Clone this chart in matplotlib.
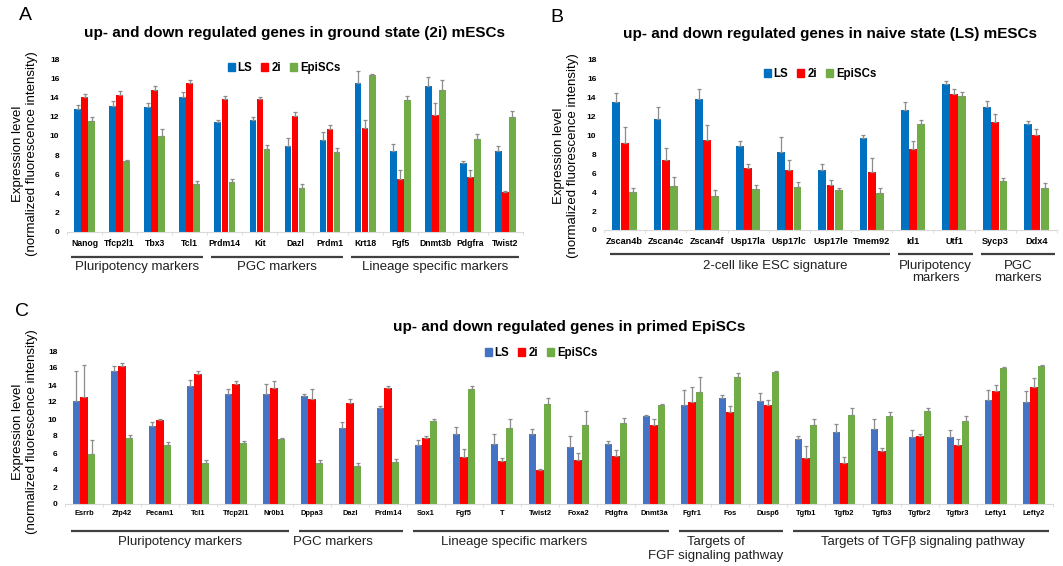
import numpy as np
import matplotlib
matplotlib.use("Agg")
import matplotlib.pyplot as plt
from matplotlib.patches import Patch
from matplotlib.transforms import blended_transform_factory

plt.rcParams['font.family'] = ['Liberation Sans', 'DejaVu Sans']

W, H = 1063, 566
series = ['LS', '2i', 'EpiSCs']

# ---- panel A : ground state (2i)
genes_a = ['Nanog', 'Tfcp2l1', 'Tbx3', 'Tcl1', 'Prdm14', 'Kit', 'Dazl', 'Prdm1',
           'Krt18', 'Fgf5', 'Dnmt3b', 'Pdgfra', 'Twist2']
ls_a = [12.8, 13.1, 13.0, 14.0, 11.4, 11.7, 9.0, 9.6, 15.5, 8.4, 15.2, 7.2, 8.4]
ls_a_err = [0.4, 0.5, 0.4, 0.6, 0.3, 0.3, 0.8, 0.8, 1.2, 0.8, 0.9, 0.2, 0.5]
tw_a = [14.0, 14.3, 14.8, 15.5, 13.8, 13.8, 12.1, 10.7, 10.8, 5.5, 12.2, 5.7, 4.2]
tw_a_err = [0.4, 0.4, 0.4, 0.3, 0.3, 0.2, 0.4, 0.4, 0.9, 1.0, 1.2, 0.7, 0.1]
epi_a = [11.6, 7.4, 10.0, 5.0, 5.2, 8.6, 4.6, 8.3, 16.3, 13.7, 14.8, 9.7, 12.0]
epi_a_err = [0.35, 0.1, 0.7, 0.3, 0.3, 0.5, 0.4, 0.4, 0.1, 0.4, 1.0, 0.5, 0.6]
groups_a = ['Pluripotency markers', 'PGC markers', 'Lineage specific markers']
spans_a = [(0, 3), (4, 7), (8, 12)]

# ---- panel B : naive state (LS)
genes_b = ['Zscan4b', 'Zscan4c', 'Zscan4f', 'Usp17la', 'Usp17lc', 'Usp17le',
           'Tmem92', 'Id1', 'Utf1', 'Sycp3', 'Ddx4']
ls_b = [13.6, 11.8, 13.9, 8.9, 8.3, 6.4, 9.7, 12.7, 15.5, 13.0, 11.2]
ls_b_err = [0.9, 1.2, 1.0, 0.5, 1.6, 0.6, 0.4, 0.9, 0.3, 0.7, 0.3]
tw_b = [9.2, 7.4, 9.5, 6.6, 6.4, 4.8, 6.1, 8.6, 14.4, 11.4, 10.1]
tw_b_err = [1.7, 1.3, 1.6, 0.4, 1.0, 0.5, 1.5, 0.8, 0.5, 0.9, 0.6]
epi_b = [4.0, 4.7, 3.6, 4.3, 4.6, 4.2, 3.9, 11.2, 14.2, 5.2, 4.5]
epi_b_err = [0.45, 0.9, 0.6, 0.5, 0.5, 0.3, 0.5, 0.4, 0.4, 0.3, 0.5]
groups_b = ['2-cell like ESC signature', 'Pluripotency\nmarkers', 'PGC\nmarkers']
spans_b = [(0, 6), (7, 8), (9, 10)]

# ---- panel C : primed EpiSCs
genes_c = ['Esrrb', 'Zfp42', 'Pecam1', 'Tcl1', 'Tfcp2l1', 'Nr0b1', 'Dppa3', 'Dazl',
           'Prdm14', 'Sox1', 'Fgf5', 'T', 'Twist2', 'Foxa2', 'Pdgfra', 'Dnmt3a',
           'Fgfr1', 'Fos', 'Dusp6', 'Tgfb1', 'Tgfb2', 'Tgfb3', 'Tgfbr2', 'Tgfbr3',
           'Lefty1', 'Lefty2']
ls_c = [12.1, 15.6, 9.15, 13.9, 13.0, 13.0, 12.7, 8.9, 11.3, 6.9, 8.2, 7.05, 8.25,
        6.75, 7.1, 10.4, 11.6, 12.5, 12.1, 7.6, 8.45, 8.8, 7.9, 7.9, 12.2, 12.0]
ls_c_err = [3.5, 0.6, 0.45, 0.65, 0.5, 1.1, 0.2, 0.8, 0.25, 0.65, 0.9, 1.2, 0.55,
            1.3, 0.35, 0.1, 1.8, 0.3, 1.0, 0.4, 1.0, 1.15, 0.8, 0.8, 1.2, 1.3]
tw_c = [12.6, 16.2, 9.9, 15.25, 14.1, 13.65, 12.3, 11.9, 13.6, 7.75, 5.5, 5.1, 4.05,
        5.2, 5.7, 9.35, 12.0, 10.8, 11.7, 5.4, 4.8, 6.2, 8.0, 7.0, 13.3, 13.8]
tw_c_err = [3.7, 0.4, 0.1, 0.4, 0.4, 0.8, 1.2, 0.45, 0.3, 0.3, 1.0, 0.35, 0.1,
            0.8, 0.7, 0.65, 1.8, 0.7, 0.5, 1.4, 0.7, 0.35, 0.2, 0.6, 0.7, 1.0]
epi_c = [5.9, 7.8, 6.95, 4.85, 7.2, 7.65, 4.85, 4.45, 5.0, 9.8, 13.5, 8.9, 11.8,
         9.3, 9.5, 11.7, 13.2, 15.0, 15.5, 9.3, 10.5, 10.4, 10.9, 9.8, 16.0, 16.2]
epi_c_err = [1.6, 0.3, 0.35, 0.3, 0.2, 0.1, 0.3, 0.4, 0.3, 0.25, 0.4, 1.15, 0.65,
             1.6, 0.6, 0.1, 1.7, 0.45, 0.2, 0.65, 0.8, 0.45, 0.35, 0.6, 0.1, 0.2]
groups_c = ['Pluripotency markers', 'PGC markers', 'Lineage specific markers',
            'Targets of\nFGF signaling pathway', 'Targets of TGF\u03b2 signaling pathway']
spans_c = [(0, 5), (6, 8), (9, 15), (16, 18), (19, 25)]

cols_ab = ['#0070C0', '#FF0000', '#70AD47']
cols_c = ['#4472C4', '#FF0000', '#70AD47']


def fy(y):
    return 1 - y / H


def rect(l, t, r, b):
    return [l / W, 1 - b / H, (r - l) / W, (b - t) / H]


def panel(fig, box, genes, vals, errs, colors, gsize, gpad):
    ax = fig.add_axes(rect(*box))
    n = len(genes)
    x = np.arange(n)
    for k in range(3):
        ax.bar(x + (k - 1) * 0.2, vals[k], width=0.19, color=colors[k],
               yerr=[np.zeros(n), errs[k]],
               error_kw=dict(ecolor='#8c8c8c', elinewidth=0.9, capsize=1.6, capthick=0.9),
               zorder=2)
    ax.set_xlim(-0.5, n - 0.5)
    ax.set_ylim(0, 18)
    ax.set_yticks(range(0, 19, 2))
    ax.set_xticks(x)
    ax.set_xticklabels(genes, fontsize=gsize, fontweight='bold')
    ax.set_xticks(np.arange(-0.5, n), minor=True)
    ax.tick_params(axis='x', which='major', length=0, pad=gpad)
    ax.tick_params(axis='x', which='minor', length=2.5, color='#d9d9d9')
    ax.tick_params(axis='y', length=0, pad=5.5, labelsize=6)
    for t in ax.get_yticklabels():
        t.set_fontweight('bold')
    for s in ['top', 'right', 'left']:
        ax.spines[s].set_visible(False)
    ax.spines['bottom'].set_color('#d9d9d9')
    ax.spines['bottom'].set_linewidth(0.8)
    return ax


def groups(fig, ax, names, spans, y_line, y_text, pad_l, pad_r, offsets, lsp):
    tr = blended_transform_factory(ax.transData, fig.transFigure)
    for name, (a, b), off in zip(names, spans, offsets):
        x0 = a - 0.5 + pad_l
        x1 = b + 0.5 - pad_r
        ax.plot([x0, x1], [fy(y_line), fy(y_line)], color='#404040', lw=1.6,
                transform=tr, clip_on=False, solid_capstyle='butt')
        ax.text((x0 + x1) / 2 + off, fy(y_text), name, transform=tr, ha='center',
                va='top', fontsize=9.5, linespacing=lsp, color='#202020')


def ylab(fig, x, y):
    fig.text(x / W, fy(y), 'Expression level\n(normalized fluorescence intensity)',
             rotation=90, ha='center', va='center', fontsize=9.5, linespacing=1.15)


def legend(fig, colors, x, y):
    handles = [Patch(color=c) for c in colors]
    fig.legend(handles, series, loc='center', bbox_to_anchor=(x / W, fy(y)),
               bbox_transform=fig.transFigure, ncol=3, frameon=False,
               prop=dict(weight='bold', size=8.3), handlelength=0.6, handleheight=0.6,
               handletextpad=0.25, columnspacing=0.8, borderpad=0)


fig = plt.figure(figsize=(W / 100, H / 100), dpi=100)

ax_a = panel(fig, (67, 59, 523, 232), genes_a, [ls_a, tw_a, epi_a],
             [ls_a_err, tw_a_err, epi_a_err], cols_ab, 6.2, 4.7)
groups(fig, ax_a, groups_a, spans_a, 257, 261, 0.1, 0.12, [0, 0, 0], 1.0)
ylab(fig, 25, 154)
legend(fig, cols_ab, 284, 68)
fig.text(295 / W, fy(33), 'up- and down regulated genes in ground state (2i) mESCs',
         ha='center', va='center', fontsize=11, fontweight='bold')
fig.text(25 / W, fy(16), 'A', ha='center', va='center', fontsize=14)

ax_b = panel(fig, (604, 60, 1057, 230), genes_b, [ls_b, tw_b, epi_b],
             [ls_b_err, tw_b_err, epi_b_err], cols_ab, 6.6, 4.7)
groups(fig, ax_b, groups_b, spans_b, 254, 260, 0.15, 0.05, [0.6, 0, 0], 1.0)
ylab(fig, 566, 156)
legend(fig, cols_ab, 820, 74)
fig.text(830 / W, fy(34), 'up- and down regulated genes in naive state (LS) mESCs',
         ha='center', va='center', fontsize=11, fontweight='bold')
fig.text(557 / W, fy(17), 'B', ha='center', va='center', fontsize=14)

ax_c = panel(fig, (65, 351, 1053, 504), genes_c, [ls_c, tw_c, epi_c],
             [ls_c_err, tw_c_err, epi_c_err], cols_c, 5.4, 4.3)
groups(fig, ax_c, groups_c, spans_c, 531, 536, 0.15, 0.1,
       [0, -0.47, -0.7, -0.4, 0.05], 1.25)
ylab(fig, 25, 432)
legend(fig, cols_c, 541, 353)
fig.text(569 / W, fy(327), 'up- and down regulated genes in primed EpiSCs',
         ha='center', va='center', fontsize=11, fontweight='bold')
fig.text(22 / W, fy(311), 'C', ha='center', va='center', fontsize=14)

fig.savefig('out.png', dpi=100)
